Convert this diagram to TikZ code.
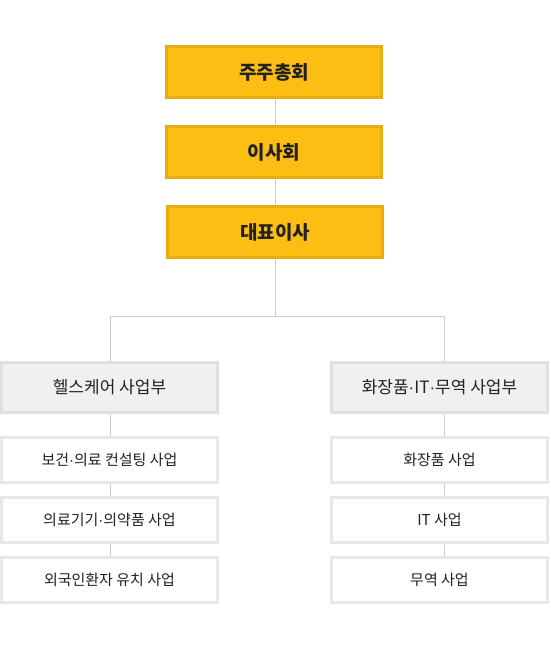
\documentclass[tikz,border=0pt]{standalone}
\usepackage{fontspec}
\newfontfamily\kr{Noto Sans CJK KR}
\newfontfamily\lat{Liberation Sans}
\newcommand\dt{{\lat\char"00B7}}
\definecolor{ybox}{HTML}{FDBE14}
\definecolor{yline}{HTML}{E8AC0E}
\definecolor{gfill}{HTML}{F0F0F0}
\definecolor{gline}{HTML}{E0E0E0}
\definecolor{wline}{HTML}{E8E8E8}
\definecolor{conn}{HTML}{CCCCCC}
\definecolor{txt}{HTML}{222222}
\tikzset{
  topbox/.style={draw=yline, fill=ybox, line width=3pt, minimum width=215pt, minimum height=51pt, inner sep=0pt, font=\kr\bfseries\fontsize{19}{22}\selectfont, text=txt},
  divbox/.style={draw=gline, fill=gfill, line width=3pt, minimum width=216pt, minimum height=50pt, inner sep=0pt, font=\kr\fontsize{17}{20}\selectfont, text=txt},
  subbox/.style={draw=wline, fill=white, line width=3pt, minimum width=216pt, minimum height=45pt, inner sep=0pt, font=\kr\fontsize{15}{18}\selectfont, text=txt},
  connector/.style={draw=conn, line width=1pt}
}
\begin{document}
\begin{tikzpicture}[x=1pt,y=-1pt]
\useasboundingbox (0,0) rectangle (550,650);
\node[topbox] (a) at (274,72) {주주총회};
\node[topbox] (b) at (274,152) {이사회};
\node[topbox] (c) at (275,232) {대표이사};
\node[divbox] (l) at (109.5,387.5) {헬스케어 사업부};
\node[divbox] (r) at (439.5,387.5) {화장품\dt IT\dt 무역 사업부};
\node[subbox] (l1) at (109.5,460) {보건\dt 의료 컨설팅 사업};
\node[subbox] (l2) at (109.5,520) {의료기기\dt 의약품 사업};
\node[subbox] (l3) at (109.5,580) {외국인환자 유치 사업};
\node[subbox] (r1) at (439.5,460) {화장품 사업};
\node[subbox] (r2) at (439.5,520) {IT 사업};
\node[subbox] (r3) at (439.5,580) {무역 사업};
\coordinate (j) at (275.5,316);
\draw[connector] ([xshift=1.5pt]a.south) -- ([xshift=1.5pt]b.north);
\draw[connector] ([xshift=1.5pt]b.south) -- ([xshift=0.5pt]c.north);
\draw[connector] ([xshift=0.5pt]c.south) -- (j);
\draw[connector] (j) -| ([xshift=1pt]l.north);
\draw[connector] (j) -| ([xshift=5pt]r.north);
\draw[connector] ([xshift=1pt]l.south) -- ([xshift=1pt]l1.north);
\draw[connector] ([xshift=1pt]l1.south) -- ([xshift=1pt]l2.north);
\draw[connector] ([xshift=1pt]l2.south) -- ([xshift=1pt]l3.north);
\draw[connector] ([xshift=5pt]r.south) -- ([xshift=5pt]r1.north);
\draw[connector] ([xshift=5pt]r1.south) -- ([xshift=5pt]r2.north);
\draw[connector] ([xshift=5pt]r2.south) -- ([xshift=5pt]r3.north);
\end{tikzpicture}
\end{document}
